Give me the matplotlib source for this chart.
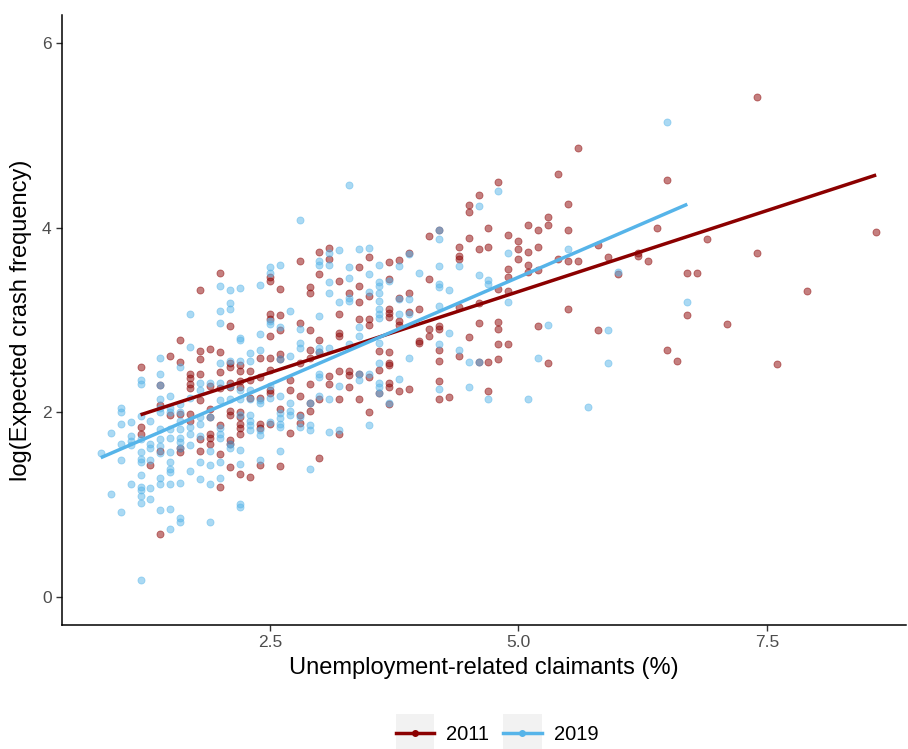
import numpy as np
import matplotlib
matplotlib.use("Agg")
import matplotlib.pyplot as plt
from matplotlib.lines import Line2D
from matplotlib.patches import Rectangle
from matplotlib.legend_handler import HandlerLine2D

plt.rcParams['font.family'] = ['Liberation Sans', 'DejaVu Sans']

# ---------------- data ----------------
red_x_levels = [1.2, 1.3, 1.4, 1.5, 1.6, 1.7, 1.8, 1.9, 2.0, 2.1, 2.2, 2.3, 2.4, 2.5, 2.6, 2.7,
                2.8, 2.9, 3.0, 3.1, 3.2, 3.3, 3.4, 3.5, 3.6, 3.7, 3.8, 3.9, 4.0, 4.1, 4.2, 4.3,
                4.4, 4.5, 4.6, 4.7, 4.8, 4.9, 5.0, 5.1, 5.2, 5.3, 5.4, 5.5, 5.6, 5.8, 5.9, 6.0,
                6.2, 6.3, 6.4, 6.5, 6.6, 6.7, 6.8, 6.9, 7.1, 7.4, 7.6, 7.9, 8.6]
red_y_groups = [
    [2.49, 1.84, 1.77], [1.43], [2.30, 2.08, 1.58, 0.68], [2.61, 1.97],
    [2.78, 2.55, 1.98, 1.62, 1.57], [2.42, 2.37, 2.31, 2.26, 1.98, 1.91],
    [3.32, 2.67, 2.58, 2.42, 2.13, 1.71, 1.58], [2.69, 2.29, 2.04, 1.95, 1.77, 1.72, 1.66],
    [3.51, 2.65, 2.44, 2.26, 1.86, 1.55, 1.19],
    [2.93, 2.54, 2.49, 2.32, 2.27, 2.02, 1.97, 1.70, 1.66, 1.41],
    [2.51, 2.45, 2.34, 2.27, 2.00, 1.95, 1.88, 1.83, 1.77, 1.33],
    [2.45, 2.35, 2.16, 1.30], [2.59, 2.38, 2.16, 1.88, 1.83, 1.43],
    [3.46, 3.42, 3.06, 3.01, 2.83, 2.59, 2.46, 2.24, 2.21, 1.88],
    [3.34, 3.05, 2.89, 2.63, 2.58, 2.04, 1.42], [2.35, 2.24, 1.78],
    [3.64, 2.97, 2.54, 2.18, 1.97, 1.89], [3.36, 3.29, 2.89, 2.68, 2.59, 2.31, 2.10, 2.02],
    [3.74, 3.50, 2.78, 2.65, 2.15, 1.51], [3.78, 3.66, 2.39, 2.31],
    [3.42, 3.06, 2.86, 2.83, 2.45, 2.15, 1.77], [3.29, 2.45, 2.40, 2.27],
    [3.57, 3.37, 3.20, 3.01, 2.42, 2.15], [3.68, 3.26, 3.01, 2.95, 2.38, 2.00],
    [2.67, 2.46, 2.21], [3.63, 3.44, 3.12, 3.08, 3.03, 2.65, 2.53, 2.51, 2.32, 2.27, 2.09],
    [3.65, 3.24, 2.99, 2.95, 2.23], [3.73, 3.29, 3.09, 2.25], [3.12, 2.77, 2.75],
    [3.91, 3.44, 2.90, 2.83], [3.97, 2.93, 2.90, 2.68, 2.56, 2.34, 2.15], [2.17],
    [3.79, 3.69, 3.66, 3.14, 2.61], [4.24, 4.17, 3.89, 2.82], [4.35, 3.77, 3.18, 2.97, 2.55],
    [3.99, 3.79, 2.55, 2.23], [4.49, 3.34, 2.98, 2.90, 2.74, 2.58],
    [3.92, 3.55, 3.46, 3.31, 2.74], [3.85, 3.77, 3.66], [4.03, 3.74, 3.59, 3.52],
    [3.97, 3.79, 3.54, 2.94], [4.11, 4.03, 2.54], [4.58, 3.66], [4.25, 3.97, 3.64, 3.12],
    [4.86, 3.64], [3.81, 2.89], [3.68], [3.50], [3.73, 3.69], [3.64], [4.00], [4.51, 2.68],
    [2.56], [3.51, 3.05], [3.51], [3.88], [2.96], [5.41, 3.73], [2.52], [3.31], [3.95]]

blue_x_levels = [0.8, 0.9, 1.0, 1.1, 1.2, 1.3, 1.4, 1.5, 1.6, 1.7, 1.8, 1.9, 2.0, 2.1, 2.2, 2.3,
                 2.4, 2.5, 2.6, 2.7, 2.8, 2.9, 3.0, 3.1, 3.2, 3.3, 3.4, 3.5, 3.6, 3.7, 3.8, 3.9,
                 4.0, 4.2, 4.3, 4.4, 4.5, 4.6, 4.7, 4.8, 4.9, 5.1, 5.2, 5.3, 5.5, 5.7, 5.9, 6.0,
                 6.5, 6.7]
blue_y_groups = [
    [1.56], [1.78, 1.12], [2.05, 2.01, 1.88, 1.66, 1.49, 0.92], [1.90, 1.75, 1.69, 1.65, 1.23],
    [2.35, 2.31, 1.96, 1.71, 1.57, 1.50, 1.46, 1.32, 1.19, 1.16, 1.10, 1.02, 0.19],
    [1.91, 1.66, 1.61, 1.49, 1.18, 1.06],
    [2.59, 2.42, 2.30, 2.14, 2.05, 2.00, 1.82, 1.71, 1.64, 1.56, 1.29, 1.23, 0.94],
    [2.18, 2.05, 2.00, 1.82, 1.72, 1.57, 1.46, 1.39, 1.36, 1.23, 0.96, 0.74],
    [2.49, 2.09, 2.00, 1.91, 1.82, 1.72, 1.68, 1.62, 1.24, 0.86, 0.81],
    [3.07, 2.71, 2.16, 1.84, 1.77, 1.65, 1.37], [2.32, 2.24, 1.95, 1.88, 1.75, 1.46, 1.28],
    [2.32, 1.95, 1.58, 1.43, 1.23, 0.81],
    [3.37, 3.10, 2.97, 2.54, 2.32, 2.13, 1.83, 1.77, 1.72, 1.46, 1.29],
    [3.32, 3.18, 3.12, 2.56, 2.29, 2.15, 1.66, 1.61],
    [3.35, 2.81, 2.78, 2.56, 2.24, 2.14, 1.97, 1.59, 1.44, 1.01, 0.98],
    [2.64, 2.56, 2.24, 2.15, 1.97, 1.91, 1.86, 1.81],
    [3.38, 2.85, 2.68, 2.13, 2.10, 1.81, 1.76, 1.48],
    [3.57, 3.51, 2.99, 2.96, 2.29, 2.16, 1.90],
    [3.59, 2.92, 2.58, 2.18, 1.99, 1.94, 1.88, 1.84, 1.58], [3.10, 2.61, 2.10, 2.02, 1.97],
    [4.08, 2.90, 2.75, 2.70, 1.95, 1.84], [2.10, 1.86, 1.81, 1.39],
    [3.64, 3.59, 3.04, 2.70, 2.65, 2.42, 2.38, 2.18],
    [3.72, 3.59, 3.41, 3.29, 2.70, 2.15, 1.79], [3.76, 3.20, 2.29, 1.81],
    [4.46, 3.57, 3.45, 3.24, 3.21, 2.74], [3.77, 2.92, 2.83, 2.42, 2.35],
    [3.78, 3.50, 3.30, 2.42, 1.86],
    [3.59, 3.41, 3.37, 3.29, 3.21, 3.12, 3.06, 3.02, 2.75, 2.53, 2.32, 2.27, 2.21],
    [3.42, 2.10], [3.58, 3.23, 3.07, 2.36], [3.71, 3.23, 3.06, 2.59], [3.51],
    [3.97, 3.88, 3.58, 3.39, 3.36, 3.15, 2.74, 2.25], [3.32, 2.86], [3.58, 2.68],
    [2.55, 2.27], [4.23, 3.49, 2.55], [3.43, 3.39, 2.14], [4.40], [3.73, 3.20], [2.14],
    [2.59], [2.95], [3.77], [2.06], [2.89, 2.54], [3.52], [5.14], [3.20]]

series_names = ["2011", "2019"]
series_colors = ["#8B0000", "#56B4E9"]
x_ticks = [2.5, 5.0, 7.5]
x_tick_labels = ["2.5", "5.0", "7.5"]
y_ticks = [0, 2, 4, 6]
x_label = "Unemployment-related claimants (%)"
y_label = "log(Expected crash frequency)"


def flatten(levels, groups):
    xs, ys = [], []
    for xv, g in zip(levels, groups):
        for yv in g:
            xs.append(xv)
            ys.append(yv)
    return np.array(xs), np.array(ys)


red_x, red_y = flatten(red_x_levels, red_y_groups)
blue_x, blue_y = flatten(blue_x_levels, blue_y_groups)

# ---------------- figure ----------------
W, H = 908, 749
fig = plt.figure(figsize=(W / 100, H / 100), dpi=100)
ax = fig.add_axes([62 / W, 1 - 625 / H, (906 - 62) / W, (625 - 15) / H])

datasets = [(red_x, red_y), (blue_x, blue_y)]
for (xs, ys), col in zip(datasets, series_colors):
    ax.scatter(xs, ys, s=26, color=col, alpha=0.5, edgecolors=col, linewidths=0.6, zorder=2)

handles = []
for (xs, ys), col, name in zip(datasets, series_colors, series_names):
    b, a = np.polyfit(xs, ys, 1)
    xx = np.linspace(xs.min(), xs.max(), 50)
    ax.plot(xx, a + b * xx, color=col, lw=2.5, zorder=3, solid_capstyle='butt')
    handles.append(Line2D([], [], color=col, lw=2.5, marker='o', markersize=4, label=name))

ax.set_xlim(0.41, 8.90)
ax.set_ylim(-0.3, 6.3)
ax.set_xticks(x_ticks)
ax.set_xticklabels(x_tick_labels)
ax.set_yticks(y_ticks)
for s in ['top', 'right']:
    ax.spines[s].set_visible(False)
for s in ['left', 'bottom']:
    ax.spines[s].set_linewidth(1.1)
    ax.spines[s].set_color('black')
ax.tick_params(axis='both', colors='#333333', labelcolor='#4D4D4D', labelsize=12.5,
               length=4, width=1.0)
ax.set_xlabel(x_label, fontsize=17, color='black', labelpad=5)
ax.set_ylabel(y_label, fontsize=17, color='black', labelpad=7)


class KeyHandler(HandlerLine2D):
    def create_artists(self, legend, orig_handle, xdescent, ydescent, width, height,
                       fontsize, trans):
        arts = super().create_artists(legend, orig_handle, xdescent, ydescent, width,
                                      height, fontsize, trans)
        side = width
        rect = Rectangle((-xdescent, -ydescent + height / 2 - side / 2), side, side,
                         facecolor='#F2F2F2', edgecolor='none', transform=trans, zorder=0)
        return [rect] + arts


leg = fig.legend(handles=handles, loc='center', bbox_to_anchor=(497 / W, 1 - 735 / H),
                 ncol=2, frameon=False, fontsize=14.5, handlelength=1.9, columnspacing=0.7,
                 handletextpad=0.6, handler_map={Line2D: KeyHandler()})

fig.savefig("out.png", dpi=100)
